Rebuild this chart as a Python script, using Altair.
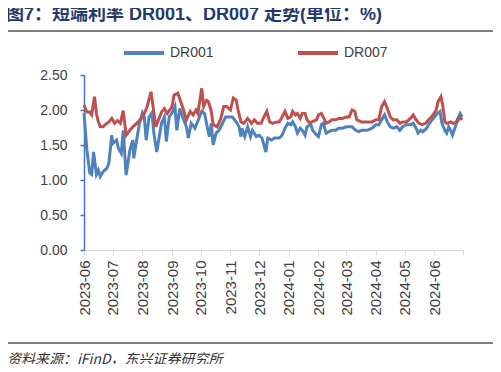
import altair as alt
import pandas as pd

# ---- data ----
dr007_dates = [
    "2023-06-01","2023-06-04","2023-06-07","2023-06-09","2023-06-12","2023-06-14","2023-06-16","2023-06-18","2023-06-21","2023-06-24","2023-06-27","2023-06-30",
    "2023-07-03","2023-07-06","2023-07-09","2023-07-12","2023-07-15","2023-07-19","2023-07-22","2023-07-26","2023-07-31",
    "2023-08-03","2023-08-06","2023-08-10","2023-08-12","2023-08-15","2023-08-21","2023-08-24","2023-08-27",
    "2023-09-01","2023-09-03","2023-09-07","2023-09-10","2023-09-13","2023-09-16","2023-09-20","2023-09-23","2023-09-26","2023-09-28",
    "2023-10-02","2023-10-04","2023-10-07","2023-10-09","2023-10-12","2023-10-14","2023-10-18","2023-10-22","2023-10-25","2023-10-28",
    "2023-11-01","2023-11-04","2023-11-07","2023-11-09","2023-11-12","2023-11-15","2023-11-19","2023-11-23","2023-11-26","2023-11-29",
    "2023-12-03","2023-12-06","2023-12-09","2023-12-12","2023-12-15","2023-12-19","2023-12-22","2023-12-25","2023-12-28","2023-12-31",
    "2024-01-03","2024-01-05","2024-01-08","2024-01-10","2024-01-13","2024-01-15","2024-01-18","2024-01-20","2024-01-23","2024-01-25","2024-01-30",
    "2024-02-01","2024-02-04","2024-02-06","2024-02-09","2024-02-12","2024-02-15","2024-02-19","2024-02-22","2024-02-26",
    "2024-03-01","2024-03-04","2024-03-07","2024-03-10","2024-03-12","2024-03-17","2024-03-23","2024-03-28",
    "2024-04-01","2024-04-04","2024-04-07","2024-04-10","2024-04-13","2024-04-16","2024-04-19","2024-04-23","2024-04-26","2024-04-29",
    "2024-05-03","2024-05-07","2024-05-10","2024-05-13","2024-05-16","2024-05-19","2024-05-23","2024-05-26","2024-05-29",
    "2024-06-03","2024-06-05","2024-06-08","2024-06-10","2024-06-12","2024-06-14","2024-06-18","2024-06-21","2024-06-25","2024-06-28","2024-06-30",
]
dr007_values = [
    2.07,1.97,1.97,1.93,2.19,1.95,1.83,1.76,1.76,1.80,1.83,1.88,
    1.81,1.85,1.81,1.99,1.64,1.71,1.76,1.81,1.88,
    1.95,2.05,2.26,2.07,1.76,1.97,2.02,1.95,
    2.05,2.21,2.24,2.12,2.00,1.86,1.98,1.93,2.00,1.95,
    2.31,2.05,2.14,2.12,1.98,1.79,1.76,1.88,2.05,2.05,
    2.00,2.17,2.14,2.00,1.83,1.81,1.88,1.81,1.86,1.81,
    1.81,1.90,1.98,1.83,1.81,1.83,1.83,1.90,1.98,1.88,
    1.90,1.98,1.93,1.95,1.88,1.95,1.95,1.86,1.81,1.83,1.86,
    1.93,1.95,1.90,1.81,1.83,1.86,1.86,1.88,1.88,
    1.90,1.90,2.00,1.98,1.86,1.83,1.83,1.83,
    1.86,1.86,2.05,2.12,2.02,1.90,1.86,1.86,1.81,1.83,
    1.83,1.88,1.93,1.86,1.81,1.79,1.81,1.86,1.90,
    2.00,2.12,2.19,2.05,1.83,1.81,1.83,1.81,1.83,1.90,1.86,
]

dr001_dates = [
    "2023-06-01","2023-06-04","2023-06-07","2023-06-09","2023-06-11","2023-06-14","2023-06-16","2023-06-18","2023-06-21","2023-06-25","2023-06-27","2023-06-30",
    "2023-07-01","2023-07-05","2023-07-07","2023-07-10","2023-07-12","2023-07-15","2023-07-19","2023-07-22","2023-07-23","2023-07-26","2023-07-29",
    "2023-08-01","2023-08-03","2023-08-05","2023-08-08","2023-08-11","2023-08-13","2023-08-16","2023-08-21","2023-08-24","2023-08-26","2023-08-29",
    "2023-09-01","2023-09-04","2023-09-06","2023-09-09","2023-09-12","2023-09-16","2023-09-18","2023-09-21","2023-09-25","2023-09-27",
    "2023-10-02","2023-10-05","2023-10-08","2023-10-10","2023-10-12","2023-10-14","2023-10-17","2023-10-20","2023-10-23","2023-10-27","2023-10-31",
    "2023-11-03","2023-11-07","2023-11-10","2023-11-12","2023-11-13","2023-11-16","2023-11-19","2023-11-22","2023-11-24","2023-11-28",
    "2023-12-01","2023-12-04","2023-12-08","2023-12-10","2023-12-14","2023-12-17","2023-12-22","2023-12-25","2023-12-28","2023-12-31",
    "2024-01-03","2024-01-05","2024-01-08","2024-01-10","2024-01-13","2024-01-15","2024-01-18","2024-01-20","2024-01-24","2024-01-26","2024-01-30",
    "2024-02-01","2024-02-04","2024-02-06","2024-02-09","2024-02-12","2024-02-15","2024-02-19","2024-02-22","2024-02-26",
    "2024-03-01","2024-03-04","2024-03-07","2024-03-11","2024-03-14","2024-03-17","2024-03-23","2024-03-28",
    "2024-04-01","2024-04-04","2024-04-07","2024-04-10","2024-04-13","2024-04-16","2024-04-19","2024-04-23","2024-04-26","2024-04-29",
    "2024-05-03","2024-05-07","2024-05-10","2024-05-13","2024-05-15","2024-05-18","2024-05-20","2024-05-24","2024-05-27","2024-05-31",
    "2024-06-04","2024-06-07","2024-06-09","2024-06-12","2024-06-14","2024-06-16","2024-06-18","2024-06-20","2024-06-23","2024-06-25","2024-06-28","2024-06-30",
]
dr001_values = [
    1.96,1.43,1.10,1.08,1.40,1.08,1.14,1.05,1.12,1.17,1.24,1.64,
    1.52,1.57,1.45,1.38,1.71,1.07,1.43,1.57,1.31,1.57,1.81,
    1.96,1.90,1.57,1.90,1.96,1.67,1.40,1.81,1.90,1.55,1.90,
    1.96,2.05,1.71,2.02,1.90,1.76,1.60,1.81,1.74,1.81,
    1.98,1.95,1.74,1.62,1.81,1.50,1.67,1.71,1.79,1.90,1.90,
    1.90,1.83,1.76,1.62,1.74,1.62,1.76,1.62,1.71,1.62,
    1.64,1.60,1.40,1.60,1.57,1.60,1.60,1.64,1.74,1.81,
    1.79,1.83,1.76,1.67,1.74,1.71,1.64,1.76,1.79,1.71,1.64,
    1.62,1.79,1.81,1.67,1.69,1.71,1.71,1.74,1.74,
    1.76,1.76,1.76,1.71,1.69,1.71,1.71,1.74,
    1.79,1.79,1.86,1.93,1.83,1.76,1.74,1.76,1.71,1.76,
    1.79,1.79,1.81,1.74,1.67,1.71,1.69,1.74,1.81,1.88,
    1.95,1.98,1.81,1.71,1.67,1.76,1.71,1.64,1.76,1.86,1.95,1.90,
]

series_names = ["DR001", "DR007"]
series_colors = ["#4F81BD", "#C0504D"]
y_ticks = [0.0, 0.5, 1.0, 1.5, 2.0, 2.5]
month_ticks = [(2023, m) for m in range(6, 13)] + [(2024, m) for m in range(1, 8)]

title_text = "图7：短端利率 DR001、DR007 走势(单位：%)"
source_text = "资料来源：iFinD，东兴证券研究所"

df = pd.concat([
    pd.DataFrame({"date": dr001_dates, "value": dr001_values, "series": "DR001"}),
    pd.DataFrame({"date": dr007_dates, "value": dr007_values, "series": "DR007"}),
], ignore_index=True)

tick_values = [alt.DateTime(year=y, month=m, date=1, utc=True) for y, m in month_ticks]

lines = alt.Chart(df).mark_line(strokeWidth=3).encode(
    x=alt.X(
        "date:T",
        scale=alt.Scale(
            type="utc",
            domain=[alt.DateTime(year=2023, month=6, date=1, utc=True),
                    alt.DateTime(year=2024, month=7, date=1, utc=True)],
        ),
        axis=alt.Axis(
            title=None, values=tick_values, format="%Y-%m",
            labelExpr="datum.value >= 1719000000000 ? '' : datum.label",
            labelAngle=-90, labelFontSize=15, labelFont="Liberation Sans",
            labelColor="#404040", labelPadding=5, labelFlush=False,
            labelOverlap=False, labelBound=False,
            tickSize=5, tickColor="#D9D9D9", domainColor="#D9D9D9",
            domainWidth=1, grid=False,
        ),
    ),
    y=alt.Y(
        "value:Q",
        scale=alt.Scale(domain=[0, 2.5], nice=False, zero=True),
        axis=alt.Axis(
            title=None, values=y_ticks, format=".2f",
            labelFontSize=14, labelFont="Liberation Sans", labelColor="#404040",
            labelPadding=13, tickSize=4, tickColor="#4472C4",
            domainColor="#4472C4", domainWidth=1.5, tickWidth=1.5, grid=False,
        ),
    ),
    color=alt.Color(
        "series:N",
        scale=alt.Scale(domain=series_names, range=series_colors),
        legend=alt.Legend(
            title=None, orient="none", legendX=38, legendY=-44,
            direction="horizontal", symbolType="stroke", symbolSize=1600,
            symbolStrokeWidth=4, labelFontSize=14, labelFont="Liberation Sans",
            labelColor="#404040", labelOffset=4, columnPadding=76, padding=0,
        ),
    ),
)

title = alt.Chart(pd.DataFrame({"t": [title_text]})).mark_text(
    align="left", baseline="alphabetic", fontSize=18, fontWeight="bold",
    font="Liberation Sans, Noto Sans CJK SC", color="#1F3A6B",
).encode(x=alt.value(-78), y=alt.value(-55), text="t:N")

source = alt.Chart(pd.DataFrame({"t": [source_text]})).mark_text(
    align="left", baseline="middle", fontSize=14, fontStyle="italic",
    font="Noto Sans CJK SC", color="#333333",
).encode(x=alt.value(-77), y=alt.value(284.5), text="t:N")

top_rule = alt.Chart(pd.DataFrame({"a": [0]})).mark_rule(
    color="#555555", strokeWidth=1.5
).encode(x=alt.value(-79), x2=alt.value(412), y=alt.value(-44))

bottom_rule = alt.Chart(pd.DataFrame({"a": [0]})).mark_rule(
    color="#555555", strokeWidth=1.5
).encode(x=alt.value(-79), x2=alt.value(412), y=alt.value(268))

chart = alt.layer(lines, title, source, top_rule, bottom_rule).properties(
    width=379, height=175,
    autosize=alt.AutoSizeParams(type="none"),
    padding={"left": 76, "top": 67, "right": 30, "bottom": 114},
    background="white",
).configure_view(stroke=None)

chart.save("out.html", embed_options={"renderer": "svg", "actions": False})
